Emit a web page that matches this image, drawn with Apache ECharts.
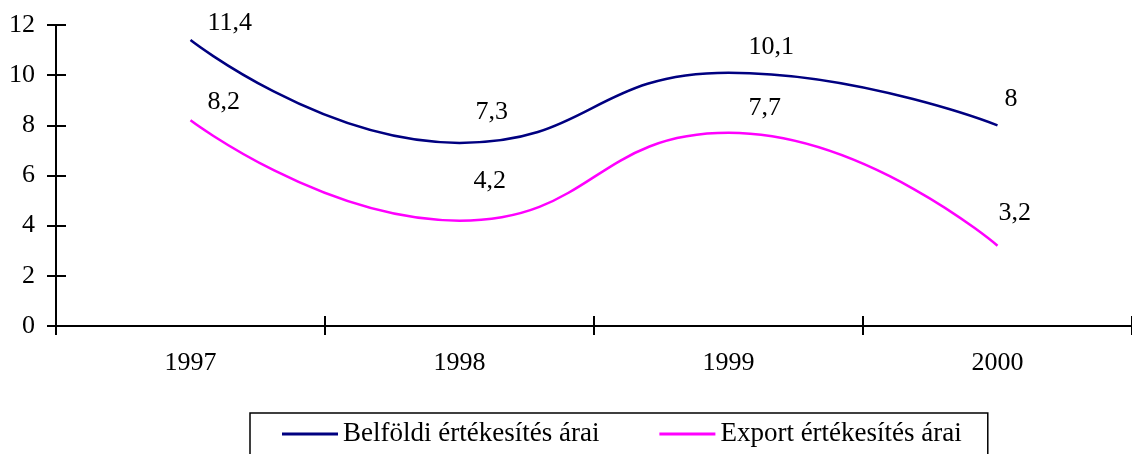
<!DOCTYPE html>
<html>
<head>
<meta charset="utf-8">
<script src="https://cdn.jsdelivr.net/npm/echarts@6/dist/echarts.min.js"></script>
<style>
html,body{margin:0;padding:0;background:#fff;}
#chart{width:1132px;height:454px;}
</style>
</head>
<body>
<div id="chart"></div>
<script>
const categories = ['1997', '1998', '1999', '2000'];
const belfoldi = [11.4, 7.3, 10.1, 8];
const exportVals = [8.2, 4.2, 7.7, 3.2];
const seriesNames = ['Belföldi értékesítés árai', 'Export értékesítés árai'];
const yTicks = { min: 0, max: 12, interval: 2 };

// label offsets (style only): [dx, dy] from each point
const belfoldiLabelOffsets = [[17, -17], [16, -31], [20, -25], [7, -26]];
const exportLabelOffsets = [[17, -18], [14, -39], [20, -25], [1, -33]];

const FONT = '"Liberation Serif", "Times New Roman", serif';

function buildData(values, offsets) {
  return values.map((v, i) => ({
    value: v,
    label: { offset: offsets[i] }
  }));
}

const labelStyle = {
  show: true,
  position: 'inside',
  align: 'left',
  verticalAlign: 'middle',
  fontFamily: FONT,
  fontSize: 26,
  color: '#000',
  formatter: p => String(p.value).replace('.', ',')
};

const chart = echarts.init(document.getElementById('chart'), null, { renderer: 'canvas' });
chart.setOption({
  animation: false,
  backgroundColor: '#fff',
  grid: { left: 56, right: 0, top: 25, bottom: 128, containLabel: false },
  legend: {
    data: seriesNames,
    left: 250,
    top: 413,
    orient: 'horizontal',
    icon: 'rect',
    itemWidth: 56,
    itemHeight: 3,
    itemGap: 60,
    borderColor: '#000',
    borderWidth: 1.5,
    borderRadius: 0,
    padding: [6, 26, 20, 32],
    textStyle: { fontFamily: FONT, fontSize: 27, color: '#000', lineHeight: 30 }
  },
  xAxis: [
    {
      type: 'category',
      data: categories,
      position: 'bottom',
      boundaryGap: true,
      axisLine: { show: true, lineStyle: { color: '#000', width: 2 } },
      axisTick: { show: true, inside: false, length: 9, lineStyle: { color: '#000', width: 2 } },
      axisLabel: { fontFamily: FONT, fontSize: 26, color: '#000', margin: 24 },
      splitLine: { show: false }
    },
    {
      type: 'category',
      data: categories,
      position: 'bottom',
      boundaryGap: true,
      axisLine: { show: false },
      axisTick: { show: true, inside: true, length: 10, lineStyle: { color: '#000', width: 2 } },
      axisLabel: { show: false },
      splitLine: { show: false }
    }
  ],
  yAxis: [
    {
      type: 'value',
      min: yTicks.min,
      max: yTicks.max,
      interval: yTicks.interval,
      position: 'left',
      axisLine: { show: true, lineStyle: { color: '#000', width: 2 } },
      axisTick: { show: true, inside: false, length: 9, lineStyle: { color: '#000', width: 2 } },
      axisLabel: { fontFamily: FONT, fontSize: 26, color: '#000', margin: 21 },
      splitLine: { show: false }
    },
    {
      type: 'value',
      min: yTicks.min,
      max: yTicks.max,
      interval: yTicks.interval,
      position: 'left',
      axisLine: { show: false },
      axisTick: { show: true, inside: true, length: 10, lineStyle: { color: '#000', width: 2 } },
      axisLabel: { show: false },
      splitLine: { show: false }
    }
  ],
  series: [
    {
      name: seriesNames[0],
      type: 'line',
      xAxisIndex: 0,
      yAxisIndex: 0,
      data: buildData(belfoldi, belfoldiLabelOffsets),
      smooth: 0.5,
      symbol: 'circle',
      symbolSize: 0.01,
      showSymbol: true,
      color: '#000080',
      itemStyle: { color: '#000080' },
      lineStyle: { color: '#000080', width: 2.5 },
      label: labelStyle
    },
    {
      name: seriesNames[1],
      type: 'line',
      xAxisIndex: 0,
      yAxisIndex: 0,
      data: buildData(exportVals, exportLabelOffsets),
      smooth: 0.5,
      symbol: 'circle',
      symbolSize: 0.01,
      showSymbol: true,
      color: '#FF00FF',
      itemStyle: { color: '#FF00FF' },
      lineStyle: { color: '#FF00FF', width: 2.5 },
      label: labelStyle
    }
  ]
});
</script>
</body>
</html>
